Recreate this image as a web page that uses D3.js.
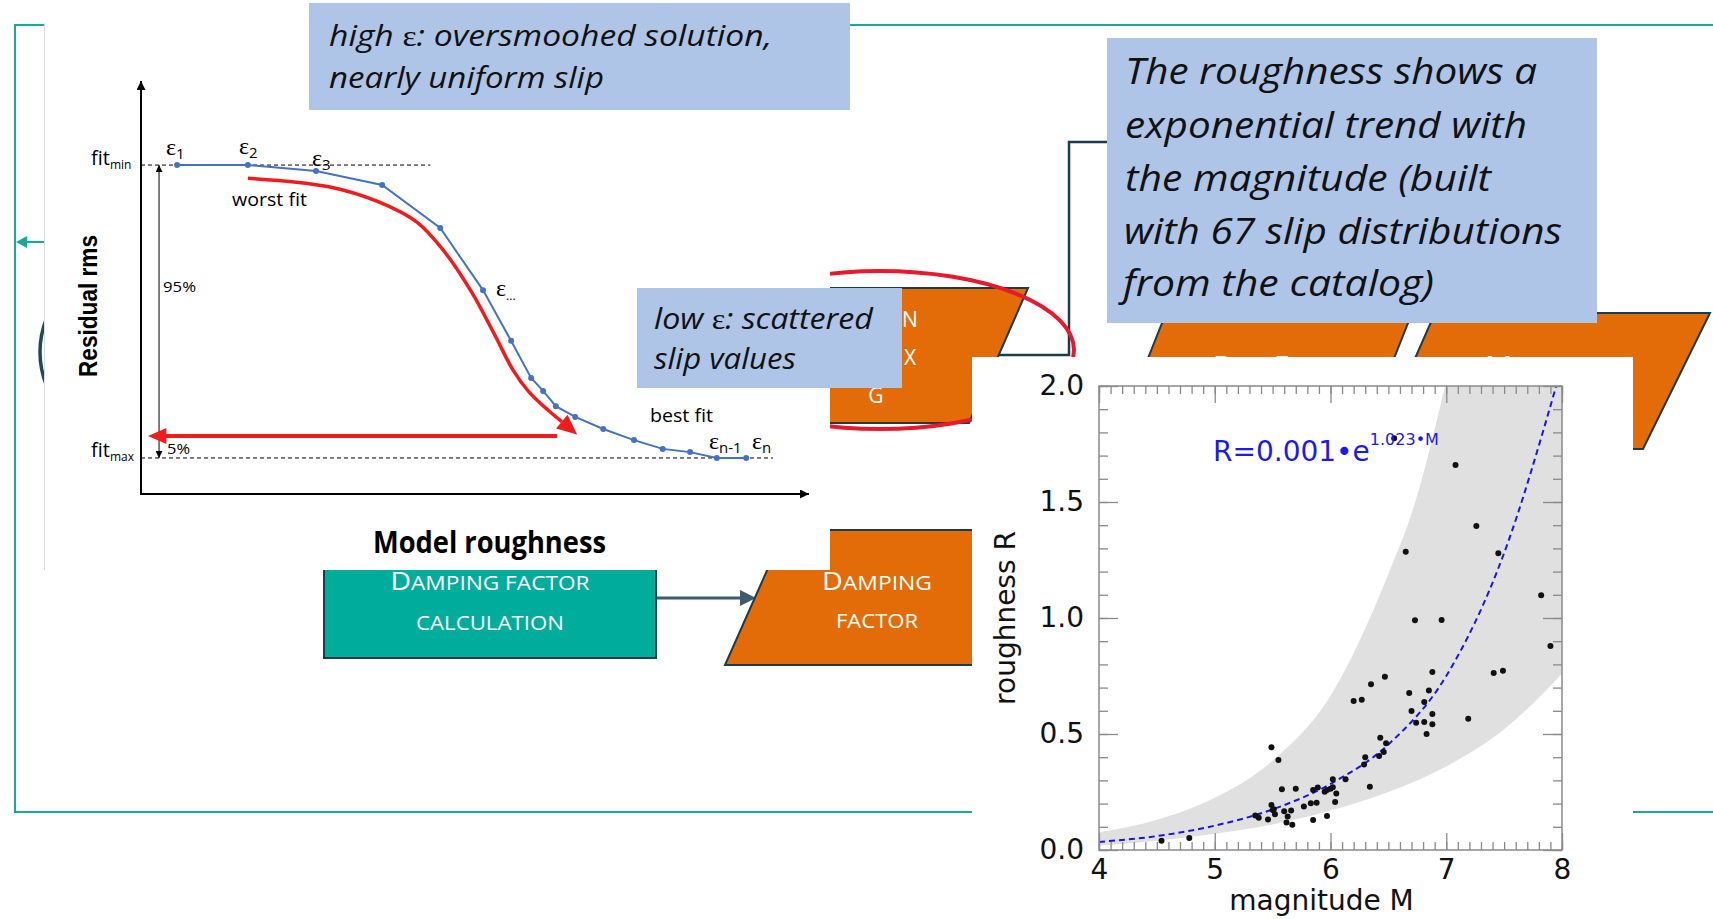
<!DOCTYPE html>
<html>
<head>
<meta charset="utf-8">
<script src="https://cdn.jsdelivr.net/npm/d3@7"></script>
<style>
  body { margin: 0; background: #fff; }
  svg { display: block; }
</style>
</head>
<body>
<div id="chart"></div>
<script>
// ---- data ----

// L-curve sketch (model roughness index, residual rms: 1 = fit_min, 0 = fit_max)
var epsRoughness = [0.54, 1.60, 2.62, 3.61, 4.48, 5.12, 5.54, 5.84, 6.02, 6.21, 6.50, 6.92, 7.38, 7.81, 8.22, 8.62, 9.06];
var epsRms       = [1.00, 1.00, 0.98, 0.932, 0.785, 0.573, 0.40, 0.273, 0.229, 0.177, 0.14, 0.099, 0.061, 0.031, 0.02, 0.0, 0.0];
var redRoughness = [1.60, 2.81, 3.55, 4.13, 4.54, 4.95, 5.28, 5.57, 5.81, 6.10, 6.30];
var redRms       = [0.955, 0.926, 0.875, 0.805, 0.705, 0.566, 0.427, 0.30, 0.225, 0.162, 0.124];
var fitMin = 1, fitMax = 0;

// roughness vs magnitude (67 slip distributions)
var magnitude = [4.54, 4.78, 5.49, 5.55, 5.58, 5.70, 5.35, 5.38, 5.46, 5.49, 5.50, 5.52, 5.60, 5.63, 5.62, 5.67, 5.66,
                 5.77, 5.83, 5.88, 5.85, 5.85, 5.89, 5.95, 5.97, 6.00, 6.02, 6.02, 6.05, 6.04, 5.97, 6.13, 6.34, 6.30,
                 6.29, 6.42, 6.46, 6.48, 6.43, 6.20, 6.27, 7.82, 7.90, 6.73, 6.96, 7.41, 7.49, 6.47, 6.35, 6.88, 6.68,
                 6.85, 6.81, 6.70, 6.88, 6.74, 6.81, 6.88, 6.83, 7.19, 6.55, 7.08, 7.26, 6.65, 7.45, 5.51];
var roughness = [0.040, 0.052, 0.443, 0.388, 0.262, 0.264, 0.149, 0.139, 0.132, 0.194, 0.172, 0.154, 0.167, 0.144, 0.118, 0.109, 0.170,
                 0.187, 0.201, 0.204, 0.129, 0.259, 0.269, 0.251, 0.259, 0.264, 0.270, 0.305, 0.244, 0.207, 0.147, 0.305, 0.273, 0.400,
                 0.369, 0.405, 0.422, 0.460, 0.484, 0.642, 0.648, 1.098, 0.879, 0.990, 0.991, 0.763, 0.773, 0.747, 0.714, 0.767, 0.677,
                 0.688, 0.638, 0.599, 0.586, 0.549, 0.552, 0.542, 0.500, 0.566, 1.775, 1.660, 1.397, 1.286, 1.279, 0.176];
var fitM = [4.0, 4.5, 5.0, 5.5, 6.0, 6.5, 7.0, 7.5, 7.95];
var fitR = [0.035, 0.06, 0.105, 0.175, 0.285, 0.455, 0.75, 1.28, 2.0];
var upperM    = [4.0, 4.5, 5.0, 5.5, 6.0, 6.5, 6.72, 6.99];
var bandUpper = [0.076, 0.13, 0.225, 0.385, 0.665, 1.19, 1.48, 2.0];
var lowerM    = [4.0, 4.5, 5.0, 5.5, 6.0, 6.5, 7.0, 7.5, 8.0];
var bandLower = [0.018, 0.04, 0.07, 0.11, 0.17, 0.25, 0.36, 0.52, 0.76];
var xTicks = [4, 5, 6, 7, 8];
var yTicks = [0, 0.5, 1, 1.5, 2];

var width = 1713,
    height = 919;

var teal = "#17a99b", navy = "#183c50", orange = "#e36c09", boxBlue = "#afc5e8";
var calibri = "'Open Sans', 'Noto Sans', sans-serif";
var serif = "'Liberation Serif', 'DejaVu Serif', serif";

var svg = d3.select("#chart").append("svg")
    .attr("width", width)
    .attr("height", height);

svg.append("rect").attr("width", width).attr("height", height).attr("fill", "#fff");

// ---- slide background: frame, flowchart shapes ----
svg.append("path")
    .attr("d", "M1713,25 H15 V812 H1713")
    .attr("fill", "none").attr("stroke", teal).attr("stroke-width", 2);

svg.append("line").attr("x1", 46).attr("y1", 242).attr("x2", 24).attr("y2", 242)
    .attr("stroke", teal).attr("stroke-width", 2);
svg.append("polygon").attr("points", "16,242 27,236 27,248").attr("fill", teal);

svg.append("circle").attr("cx", 130).attr("cy", 352).attr("r", 90)
    .attr("fill", "none").attr("stroke", "#1f4858").attr("stroke-width", 3.5);

function shape(points, fill) {
  svg.append("polygon")
     .attr("points", points.map(function(p) { return p.join(","); }).join(" "))
     .attr("fill", fill).attr("stroke", navy).attr("stroke-width", 2);
}

// small caps style label: first letters bigger
function capsText(x, y, parts, len) {
  var t = svg.append("text").attr("x", x).attr("y", y)
      .attr("text-anchor", "middle").attr("fill", "#fff")
      .attr("font-family", calibri);
  parts.forEach(function(p) {
    t.append("tspan").attr("font-size", p[1]).text(p[0]);
  });
  if (len) t.attr("textLength", len).attr("lengthAdjust", "spacingAndGlyphs");
  return t;
}

shape([[760, 288], [1028, 288], [969, 423], [700, 423]], orange);
[["N", 910, 327], ["X", 910, 365], ["G", 876, 403]].forEach(function(d) {
  svg.append("text").attr("x", d[1]).attr("y", d[2]).attr("text-anchor", "middle")
     .attr("fill", "#fff").attr("font-family", calibri).attr("font-size", 21).text(d[0]);
});

svg.append("rect").attr("x", 324).attr("y", 520).attr("width", 332).attr("height", 138)
    .attr("fill", "#00ad9c").attr("stroke", navy).attr("stroke-width", 2);
capsText(490, 590, [["D", 25], ["AMPING FACTOR", 20]], 199);
capsText(490, 630, [["CALCULATION", 20]], 148);

svg.append("line").attr("x1", 657).attr("y1", 598).attr("x2", 742).attr("y2", 598)
    .attr("stroke", "#3d5b6e").attr("stroke-width", 3);
svg.append("polygon").attr("points", "756,598 740,590 740,606").attr("fill", "#3d5b6e");

shape([[785, 530], [1100, 530], [1040, 665], [725, 665]], orange);
capsText(877, 590, [["D", 25], ["AMPING", 20]], 110);
capsText(877, 628, [["FACTOR", 20]], 82);

shape([[1166, 313], [1412, 313], [1358, 449], [1112, 449]], orange);
capsText(1260, 374, [["B", 25], ["EST ", 20], ["F", 25], ["IT", 20]], 94);
shape([[1435, 313], [1710, 313], [1643, 449], [1375, 449]], orange);
capsText(1537, 374, [["M", 25], ["ODELS", 20]], 104);

svg.append("path").attr("d", "M998,355 H1069 V142 H1112")
    .attr("fill", "none").attr("stroke", navy).attr("stroke-width", 2.5);

svg.append("ellipse").attr("cx", 880).attr("cy", 350).attr("rx", 194).attr("ry", 79)
    .attr("fill", "none").attr("stroke", "#e8192c").attr("stroke-width", 4);

// ---- left picture: residual rms vs model roughness ----
var diag = svg.append("g");
diag.append("rect").attr("x", 44).attr("y", 23).attr("width", 786).attr("height", 547).attr("fill", "#fff");
diag.append("line").attr("x1", 44.5).attr("y1", 23).attr("x2", 44.5).attr("y2", 570)
    .attr("stroke", "#dcdcdc").attr("stroke-width", 1);

var xD = d3.scaleLinear().domain([0, 10]).range([141, 809]);
var yD = d3.scaleLinear().domain([-0.123, 1.287]).range([494, 81]);

var defs = svg.append("defs");
defs.append("marker").attr("id", "headBlack")
    .attr("viewBox", "0 0 10 10").attr("refX", 10).attr("refY", 5)
    .attr("markerWidth", 11).attr("markerHeight", 9).attr("markerUnits", "userSpaceOnUse")
    .attr("orient", "auto-start-reverse")
  .append("path").attr("d", "M0,0 L10,5 L0,10 z").attr("fill", "#000");
defs.append("marker").attr("id", "headSmall")
    .attr("viewBox", "0 0 10 10").attr("refX", 10).attr("refY", 5)
    .attr("markerWidth", 7).attr("markerHeight", 7).attr("markerUnits", "userSpaceOnUse")
    .attr("orient", "auto-start-reverse")
  .append("path").attr("d", "M0,0 L10,5 L0,10 z").attr("fill", "#000");

// axes
diag.append("path")
    .attr("d", "M" + xD(10) + "," + yD(-0.123) + " H" + xD(0) + " V" + yD(1.287))
    .attr("fill", "none").attr("stroke", "#000").attr("stroke-width", 2)
    .attr("marker-start", "url(#headBlack)").attr("marker-end", "url(#headBlack)");

// fit levels
diag.append("line").attr("x1", xD(0)).attr("x2", xD(4.33)).attr("y1", yD(fitMin)).attr("y2", yD(fitMin))
    .attr("stroke", "#000").attr("stroke-width", 1).attr("stroke-dasharray", "4,3");
diag.append("line").attr("x1", xD(0)).attr("x2", xD(9.46)).attr("y1", yD(fitMax)).attr("y2", yD(fitMax))
    .attr("stroke", "#000").attr("stroke-width", 1).attr("stroke-dasharray", "4,3");
diag.append("line").attr("x1", xD(0.27)).attr("x2", xD(0.27)).attr("y1", yD(fitMin)).attr("y2", yD(fitMax))
    .attr("stroke", "#000").attr("stroke-width", 1)
    .attr("marker-start", "url(#headSmall)").attr("marker-end", "url(#headSmall)");

// red annotation curve and arrows
var redPts = redRoughness.map(function(d, i) { return [xD(d), yD(redRms[i])]; });
diag.append("path")
    .attr("d", d3.line().curve(d3.curveCatmullRom)(redPts))
    .attr("fill", "none").attr("stroke", "#f21b1b").attr("stroke-width", 3.5);
(function() {
  var a = redPts[redPts.length - 2], b = redPts[redPts.length - 1];
  var dx = b[0] - a[0], dy = b[1] - a[1], L = Math.sqrt(dx * dx + dy * dy);
  var ux = dx / L, uy = dy / L;
  var tip = [b[0] + ux * 20, b[1] + uy * 20];
  diag.append("polygon")
      .attr("points", [tip, [b[0] - uy * 9, b[1] + ux * 9], [b[0] + uy * 9, b[1] - ux * 9]].map(function(p) { return p.join(","); }).join(" "))
      .attr("fill", "#f21b1b");
})();
diag.append("line").attr("x1", xD(6.23)).attr("x2", xD(0.36)).attr("y1", yD(0.075)).attr("y2", yD(0.075))
    .attr("stroke", "#f21b1b").attr("stroke-width", 4);
diag.append("polygon")
    .attr("points", [[xD(0.105), yD(0.075)], [xD(0.38), yD(0.075) - 8], [xD(0.38), yD(0.075) + 8]].map(function(p) { return p.join(","); }).join(" "))
    .attr("fill", "#f21b1b");

// blue epsilon curve
var epsPts = epsRoughness.map(function(d, i) { return [xD(d), yD(epsRms[i])]; });
diag.append("path").attr("d", d3.line()(epsPts))
    .attr("fill", "none").attr("stroke", "#4472c4").attr("stroke-width", 2);
diag.selectAll("circle.eps").data(epsPts).enter().append("circle")
    .attr("class", "eps").attr("cx", function(d) { return d[0]; }).attr("cy", function(d) { return d[1]; })
    .attr("r", 3).attr("fill", "#4472c4");

// labels
function subLabel(x, y, main, sub, mainFont, mainSize, subSize) {
  var t = diag.append("text").attr("x", x).attr("y", y).attr("fill", "#000");
  t.append("tspan").attr("font-family", mainFont).attr("font-size", mainSize).text(main);
  t.append("tspan").attr("font-family", calibri).attr("font-size", subSize).attr("dy", 4).text(sub);
  return t;
}
subLabel(91, 165, "fit", "min", calibri, 20, 12);
subLabel(91, 457, "fit", "max", calibri, 20, 12);
subLabel(166, 155, "\u03b5", "1", serif, 24, 15);
subLabel(239, 154, "\u03b5", "2", serif, 24, 15);
subLabel(312, 166, "\u03b5", "3", serif, 24, 15);
subLabel(496, 296, "\u03b5", "...", serif, 24, 12);
subLabel(709, 449, "\u03b5", "n-1", serif, 24, 15);
subLabel(752, 449, "\u03b5", "n", serif, 24, 15);

diag.append("text").attr("x", 232).attr("y", 206).attr("font-family", calibri).attr("font-size", 18)
    .attr("textLength", 75).attr("lengthAdjust", "spacingAndGlyphs").text("worst fit");
diag.append("text").attr("x", 650).attr("y", 422).attr("font-family", calibri).attr("font-size", 18)
    .attr("textLength", 63).attr("lengthAdjust", "spacingAndGlyphs").text("best fit");
diag.append("text").attr("x", 163).attr("y", 292).attr("font-family", calibri).attr("font-size", 15)
    .attr("textLength", 33).attr("lengthAdjust", "spacingAndGlyphs").text("95%");
diag.append("text").attr("x", 167).attr("y", 454).attr("font-family", calibri).attr("font-size", 15)
    .attr("textLength", 23).attr("lengthAdjust", "spacingAndGlyphs").text("5%");

diag.append("text").attr("transform", "translate(97,306) rotate(-90)")
    .attr("text-anchor", "middle").attr("font-family", "'Liberation Sans', Arial, sans-serif")
    .attr("font-weight", "bold").attr("font-size", 25)
    .attr("textLength", 142).attr("lengthAdjust", "spacingAndGlyphs").text("Residual rms");
diag.append("text").attr("x", 373).attr("y", 553)
    .attr("font-family", calibri).attr("font-weight", "bold").attr("font-size", 31)
    .attr("textLength", 233).attr("lengthAdjust", "spacingAndGlyphs").text("Model roughness");

// ---- callout boxes ----
function callout(x, y, w, h, lines, size) {
  svg.append("rect").attr("x", x).attr("y", y).attr("width", w).attr("height", h).attr("fill", boxBlue);
  lines.forEach(function(l) {
    var t = svg.append("text").attr("x", l.x).attr("y", l.y)
        .attr("font-family", calibri).attr("font-style", "italic").attr("font-size", size).attr("fill", "#111")
        .attr("textLength", l.w).attr("lengthAdjust", "spacingAndGlyphs");
    l.parts.forEach(function(p) {
      var s = t.append("tspan").text(p);
      if (p === "\u03b5") s.attr("font-family", serif).attr("font-style", "normal");
    });
  });
}
callout(309, 3, 541, 107, [
  { x: 329, y: 46, w: 443, parts: ["high ", "\u03b5", ": oversmoohed solution,"] },
  { x: 329, y: 88, w: 275, parts: ["nearly uniform slip"] }
], 30);
callout(637, 288, 265, 100, [
  { x: 654, y: 329, w: 219, parts: ["low ", "\u03b5", ": scattered"] },
  { x: 654, y: 369, w: 142, parts: ["slip values"] }
], 29);

// ---- right picture: roughness vs magnitude ----
svg.append("rect").attr("x", 972).attr("y", 357).attr("width", 661).attr("height", 562).attr("fill", "#fff");

var xS = d3.scaleLinear().domain([4, 8]).range([1099, 1562]);
var yS = d3.scaleLinear().domain([0, 2]).range([850, 386]);

defs.append("clipPath").attr("id", "plotClip")
  .append("rect").attr("x", xS(4)).attr("y", yS(2)).attr("width", xS(8) - xS(4)).attr("height", yS(0) - yS(2));

var plot = svg.append("g");
var inner = plot.append("g").attr("clip-path", "url(#plotClip)");

// scatter band: upper edge until it leaves the top, along the top edge, lower edge back
var upperPath = d3.line().curve(d3.curveMonotoneX)
    .x(function(d) { return xS(d); })
    .y(function(d, i) { return yS(bandUpper[i]); })(upperM);
var lowerRev = lowerM.slice().reverse();
var lowerVals = bandLower.slice().reverse();
var lowerPath = d3.line().curve(d3.curveMonotoneX)
    .x(function(d) { return xS(d); })
    .y(function(d, i) { return yS(lowerVals[i]); })(lowerRev);
inner.append("path")
    .attr("d", upperPath + "L" + xS(8) + "," + yS(2) + "L" + lowerPath.slice(1) + "Z")
    .attr("fill", "#e0e0e0");

inner.append("path")
    .attr("d", d3.line().curve(d3.curveMonotoneX)
        .x(function(d) { return xS(d); })
        .y(function(d, i) { return yS(fitR[i]); })(fitM))
    .attr("fill", "none").attr("stroke", "#1515e6").attr("stroke-width", 2).attr("stroke-dasharray", "6,4");

plot.selectAll("circle.pt").data(magnitude).enter().append("circle")
    .attr("class", "pt")
    .attr("cx", function(d) { return xS(d); })
    .attr("cy", function(d, i) { return yS(roughness[i]); })
    .attr("r", 3).attr("fill", "#111");

// ticks on all four sides, pointing inward
var minorX = d3.range(40, 81).map(function(d) { return d / 10; });
var minorY = d3.range(0, 21).map(function(d) { return d / 10; });
var tickFont = "'DejaVu Sans', sans-serif";

function styleAxis(g) {
  g.selectAll(".domain").remove();
  g.selectAll(".tick line").attr("stroke", "#8a8a8a").attr("stroke-width", 1.3);
  g.selectAll(".tick text").attr("font-family", tickFont).attr("font-size", 28).attr("fill", "#111");
}
var gB = plot.append("g").attr("transform", "translate(0," + yS(0) + ")");
gB.append("g").call(d3.axisBottom(xS).tickValues(minorX).tickSize(-8).tickFormat("")).call(styleAxis);
gB.append("g").call(d3.axisBottom(xS).tickValues(xTicks).tickSize(-17).tickPadding(9).tickFormat(d3.format("d"))).call(styleAxis);
var gT = plot.append("g").attr("transform", "translate(0," + yS(2) + ")");
gT.append("g").call(d3.axisTop(xS).tickValues(minorX).tickSize(-8).tickFormat("")).call(styleAxis);
gT.append("g").call(d3.axisTop(xS).tickValues(xTicks).tickSize(-17).tickFormat("")).call(styleAxis);
var gL = plot.append("g").attr("transform", "translate(" + xS(4) + ",0)");
gL.append("g").call(d3.axisLeft(yS).tickValues(minorY).tickSize(-9).tickFormat("")).call(styleAxis);
gL.append("g").call(d3.axisLeft(yS).tickValues(yTicks).tickSize(-19).tickPadding(15).tickFormat(d3.format(".1f"))).call(styleAxis);
var gR = plot.append("g").attr("transform", "translate(" + xS(8) + ",0)");
gR.append("g").call(d3.axisRight(yS).tickValues(minorY).tickSize(-9).tickFormat("")).call(styleAxis);
gR.append("g").call(d3.axisRight(yS).tickValues(yTicks).tickSize(-19).tickFormat("")).call(styleAxis);

plot.append("rect").attr("x", xS(4)).attr("y", yS(2)).attr("width", xS(8) - xS(4)).attr("height", yS(0) - yS(2))
    .attr("fill", "none").attr("stroke", "#8a8a8a").attr("stroke-width", 1.5);

var formula = plot.append("text").attr("x", 1213).attr("y", 461)
    .attr("font-family", tickFont).attr("fill", "#1a1aee");
formula.append("tspan").attr("font-size", 28).text("R=0.001\u2022e");
formula.append("tspan").attr("font-size", 16).attr("dy", -16).text("1.023\u2022M");

plot.append("text").attr("x", xS(6) - 9).attr("y", 910).attr("text-anchor", "middle")
    .attr("font-family", tickFont).attr("font-size", 28).attr("fill", "#111").text("magnitude M");
plot.append("text").attr("transform", "translate(1015," + yS(1) + ") rotate(-90)")
    .attr("text-anchor", "middle").attr("font-family", tickFont).attr("font-size", 28).attr("fill", "#111")
    .text("roughness R");

// ---- big callout on the right ----
callout(1107, 38, 490, 285, [
  { x: 1125, y: 84, w: 412, parts: ["The roughness shows a"] },
  { x: 1125, y: 138, w: 402, parts: ["exponential trend with"] },
  { x: 1125, y: 191, w: 366, parts: ["the magnitude (built"] },
  { x: 1124, y: 244, w: 438, parts: ["with 67 slip distributions"] },
  { x: 1123, y: 296, w: 311, parts: ["from the catalog)"] }
], 37);
</script>
</body>
</html>
